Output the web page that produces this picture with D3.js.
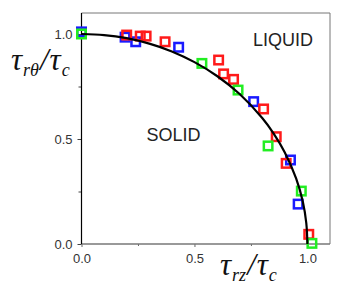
<!DOCTYPE html>
<html>
<head>
<meta charset="utf-8">
<script src="https://cdn.jsdelivr.net/npm/d3@7"></script>
<style>
  body { margin: 0; background: #fff; }
</style>
</head>
<body>
<div id="chart"></div>
<script>
// measured points, one array per colour: [tau_rz/tau_c, tau_rtheta/tau_c]
const bluePts = [[0.0, 1.01], [0.193, 0.985], [0.24, 0.963], [0.43, 0.937], [0.762, 0.678], [0.925, 0.40], [0.959, 0.19]];
const redPts = [[0.20, 0.995], [0.26, 0.99], [0.286, 0.99], [0.37, 0.963], [0.607, 0.876], [0.629, 0.81], [0.673, 0.784], [0.806, 0.643], [0.862, 0.511], [0.906, 0.384], [1.006, 0.046]];
const greenPts = [[0.0, 1.0], [0.533, 0.86], [0.693, 0.733], [0.826, 0.467], [0.973, 0.252], [1.02, 0.003]];

// fitted boundary
const curvePts = [[0, 1.0], [0.1, 0.995], [0.2, 0.98], [0.3, 0.954], [0.4, 0.917], [0.5, 0.866], [0.6, 0.8], [0.7, 0.714], [0.8, 0.6], [0.85, 0.527], [0.9, 0.436], [0.95, 0.312], [0.98, 0.2], [0.995, 0.1], [1.0, 0.0]];

const majorTicks = [0, 0.5, 1.0];
const minorTicks = [0.25, 0.75];

const width = 343, height = 293;
const plotLeft = 81.5, plotRight = 330, plotTop = 13, plotBottom = 244;

const x = d3.scaleLinear().domain([0, 1.1]).range([plotLeft, plotRight]);
const y = d3.scaleLinear().domain([0, 1.1]).range([plotBottom, plotTop]);

const svg = d3.select("#chart").append("svg")
  .attr("width", width).attr("height", height)
  .style("font-family", "Arial, 'Liberation Sans', sans-serif");

// frame (top + right)
svg.append("path")
  .attr("d", `M${plotLeft},${plotTop}H${plotRight}V${plotBottom}`)
  .attr("fill", "none").attr("stroke", "#777").attr("stroke-width", 1);

// x axis
const xAxis = svg.append("g").attr("transform", `translate(0,${plotBottom})`);
xAxis.call(d3.axisBottom(x).tickValues(majorTicks).tickFormat(d3.format(".1f")).tickSize(3).tickPadding(7));
xAxis.append("g").call(d3.axisBottom(x).tickValues(minorTicks).tickFormat("").tickSize(2));
xAxis.selectAll(".domain").remove();
xAxis.append("line").attr("x1", plotLeft).attr("x2", plotRight).attr("stroke", "#777").attr("stroke-width", 1.5);
xAxis.selectAll(".tick line").attr("stroke", "#666");
xAxis.selectAll("text").attr("fill", "#333").style("font-size", "13px");

// y axis
const yAxis = svg.append("g").attr("transform", `translate(${plotLeft},0)`);
yAxis.call(d3.axisLeft(y).tickValues(majorTicks).tickFormat(d3.format(".1f")).tickSize(4).tickPadding(5));
yAxis.append("g").call(d3.axisLeft(y).tickValues(minorTicks).tickFormat("").tickSize(3));
yAxis.selectAll(".domain").remove();
yAxis.append("line").attr("y1", plotTop).attr("y2", plotBottom).attr("stroke", "#000").attr("stroke-width", 1.2);
yAxis.selectAll(".tick line").attr("stroke", "#444");
yAxis.selectAll("text").attr("fill", "#333").style("font-size", "13px");

// squares
const sq = 8.5;
function drawSquares(pts, color) {
  svg.append("g").selectAll("rect").data(pts).join("rect")
    .attr("x", d => x(d[0]) - sq / 2)
    .attr("y", d => y(d[1]) - sq / 2)
    .attr("width", sq).attr("height", sq)
    .attr("fill", "none").attr("stroke", color).attr("stroke-width", 2.5);
}
drawSquares(bluePts, "#1a1aff");
drawSquares(redPts, "#ff1a1a");
drawSquares(greenPts, "#22ee22");

// boundary curve
const line = d3.line().x(d => x(d[0])).y(d => y(d[1])).curve(d3.curveCatmullRom.alpha(0.5));
svg.append("path").datum(curvePts)
  .attr("d", line)
  .attr("fill", "none").attr("stroke", "#000").attr("stroke-width", 2.2);

// region labels
svg.append("text").attr("x", 253).attr("y", 45.5)
  .style("font-size", "18px").attr("fill", "#222").text("LIQUID");
svg.append("text").attr("x", 146.5).attr("y", 140.5)
  .style("font-size", "18px").attr("fill", "#222").text("SOLID");

// axis titles
const serif = "'Liberation Serif', 'DejaVu Serif', serif";
function axisTitle(px, py, sub) {
  const t = svg.append("text").attr("x", px).attr("y", py)
    .style("font-family", serif).style("font-style", "italic").style("font-size", "31px").attr("fill", "#111");
  t.append("tspan").text("τ");
  t.append("tspan").attr("dy", 6).attr("dx", 1).style("font-size", "18px").text(sub);
  t.append("tspan").attr("dy", -6).attr("dx", 1).text("/");
  t.append("tspan").attr("dx", 1).text("τ");
  t.append("tspan").attr("dy", 6).attr("dx", 1).style("font-size", "18px").text("c");
}
axisTitle(11, 70, "rθ");
axisTitle(220, 275, "rz");
</script>
</body>
</html>
